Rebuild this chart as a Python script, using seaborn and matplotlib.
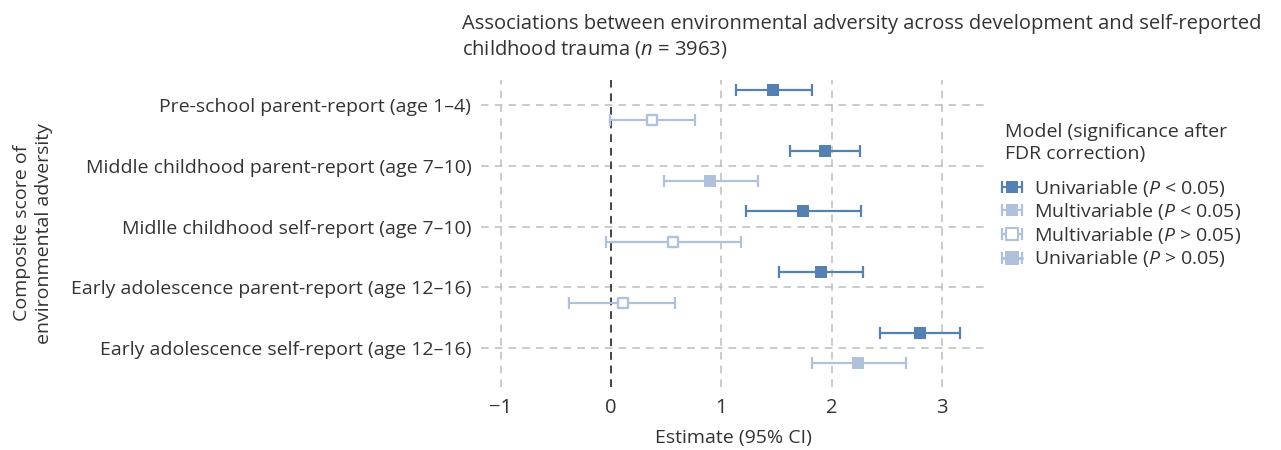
import numpy as np
import pandas as pd
import matplotlib
matplotlib.use("Agg")
import matplotlib.pyplot as plt
from matplotlib.lines import Line2D
from matplotlib.legend_handler import HandlerLine2D, HandlerTuple
import seaborn as sns

categories = [
    "Pre-school parent-report (age 1\u20134)",
    "Middle childhood parent-report (age 7\u201310)",
    "Midlle childhood self-report (age 7\u201310)",
    "Early adolescence parent-report (age 12\u201316)",
    "Early adolescence self-report (age 12\u201316)",
]
uni_est = [1.47, 1.94, 1.74, 1.90, 2.80]
uni_lo = [1.13, 1.62, 1.22, 1.52, 2.44]
uni_hi = [1.82, 2.26, 2.27, 2.28, 3.16]
multi_est = [0.37, 0.90, 0.56, 0.11, 2.24]
multi_lo = [-0.01, 0.48, -0.05, -0.38, 1.82]
multi_hi = [0.76, 1.33, 1.18, 0.58, 2.67]
multi_sig = [False, True, False, False, True]
xticks = [-1, 0, 1, 2, 3]
xtick_labels = ["\u22121", "0", "1", "2", "3"]
legend_title = "Model (significance after\nFDR correction)"
legend_labels = ["Univariable ($\\mathit{P}$ < 0.05)", "Multivariable ($\\mathit{P}$ < 0.05)",
                 "Multivariable ($\\mathit{P}$ > 0.05)", "Univariable ($\\mathit{P}$ > 0.05)"]

DARK = "#5580b2"
LIGHT = "#b0c1dc"
TXT = "#333333"
FS = 14

sns.set_theme(style="white")
plt.rcParams["font.family"] = ["Open Sans", "DejaVu Sans"]
plt.rcParams["mathtext.fontset"] = "custom"
plt.rcParams["mathtext.it"] = "Open Sans:italic"
plt.rcParams["mathtext.rm"] = "Open Sans"

fig = plt.figure(figsize=(12.81, 4.5), dpi=100)
ax = fig.add_axes([0.3755, 0.14, 0.3934, 0.682])

ypos = np.arange(len(categories))
off = 0.25
df_u = pd.DataFrame({"y": ypos - off, "x": uni_est})
df_m = pd.DataFrame({"y": ypos + off, "x": multi_est, "sig": multi_sig})

# grid
for xv in xticks:
    if xv == 0:
        continue
    ax.axvline(xv, color="#bdbdbd", lw=1.1, ls=(0, (5, 4)), zorder=0)
for yv in ypos:
    ax.axhline(yv, color="#bdbdbd", lw=1.1, ls=(0, (5, 4)), zorder=0)
ax.axvline(0, color="#444444", lw=1.4, ls=(0, (4, 3)), zorder=1)

eb_kw = dict(fmt="none", elinewidth=1.6, capsize=4, capthick=1.6, zorder=2)
ax.errorbar(uni_est, ypos - off,
            xerr=[np.array(uni_est) - np.array(uni_lo), np.array(uni_hi) - np.array(uni_est)],
            ecolor=DARK, **eb_kw)
ax.errorbar(multi_est, ypos + off,
            xerr=[np.array(multi_est) - np.array(multi_lo), np.array(multi_hi) - np.array(multi_est)],
            ecolor=LIGHT, **eb_kw)

sns.scatterplot(data=df_u, x="x", y="y", marker="s", s=78, color=DARK,
                edgecolor=DARK, linewidth=0, ax=ax, zorder=3, legend=False)
sns.scatterplot(data=df_m[df_m["sig"]], x="x", y="y", marker="s", s=78, color=LIGHT,
                edgecolor=LIGHT, linewidth=0, ax=ax, zorder=3, legend=False)
sns.scatterplot(data=df_m[~df_m["sig"]], x="x", y="y", marker="s", s=62, color="white",
                edgecolor=LIGHT, linewidth=1.7, ax=ax, zorder=3, legend=False)

# legend handles: bar with caps (2 points) + centre square (1 point)
def bar(color, lw=1.6):
    return Line2D([], [], color=color, lw=lw, marker="|", ms=8, mew=1.6)

def sq(color, face=None, ms=9):
    return Line2D([], [], ls="none", marker="s", ms=ms, mfc=face or color,
                  mec=color, mew=1.5 if face else 0)

b1, s1 = bar(DARK), sq(DARK)
b2, s2 = bar(LIGHT), sq(LIGHT)
b3, s3 = bar(LIGHT), sq(LIGHT, face="white", ms=8.5)
b4, s4 = bar(LIGHT, lw=2.2), sq(LIGHT, ms=10)
hmap = {tuple: HandlerTuple(ndivide=1, pad=0)}
for b in (b1, b2, b3, b4):
    hmap[b] = HandlerLine2D(numpoints=2)
for s in (s1, s2, s3, s4):
    hmap[s] = HandlerLine2D(numpoints=1)
handles = [(b1, s1), (b2, s2), (b3, s3), (b4, s4)]
leg = fig.legend(handles, legend_labels, handler_map=hmap,
                 loc="upper left", bbox_to_anchor=(0.7775, 0.605), frameon=False,
                 fontsize=FS, handlelength=1.65,
                 handletextpad=0.3, labelspacing=0.13, borderpad=0, borderaxespad=0)
for t in leg.get_texts():
    t.set_color(TXT)
fig.text(1005 / 1281, 1 - 123 / 450, legend_title, ha="left", va="top", fontsize=FS,
         color=TXT, linespacing=1.3)

ax.set_xlim(-1.18, 3.39)
ax.set_ylim(4.64, -0.41)
ax.set_xticks(xticks)
ax.set_xticklabels(xtick_labels, fontsize=FS + 0.5, color=TXT)
ax.set_yticks(ypos)
ax.set_yticklabels(categories, fontsize=FS, color=TXT)
ax.tick_params(axis="both", length=0)
ax.tick_params(axis="y", pad=7)
ax.tick_params(axis="x", pad=8)
for sp in ax.spines.values():
    sp.set_visible(False)
ax.grid(False)

ax.set_xlabel("Estimate (95% CI)", fontsize=FS, color=TXT, labelpad=8)
ax.set_ylabel("")
fig.text(0.026, 0.482, "Composite score of\nenvironmental adversity", rotation=90,
         ha="center", va="center", fontsize=FS, color=TXT, linespacing=1.3)

fig.text(0.3605, 0.97, "Associations between environmental adversity across development and self-reported\n"
         "childhood trauma ($\\mathit{n}$ = 3963)", ha="left", va="top", fontsize=FS + 0.5,
         color=TXT, linespacing=1.3)

fig.savefig("out.png", dpi=100)
